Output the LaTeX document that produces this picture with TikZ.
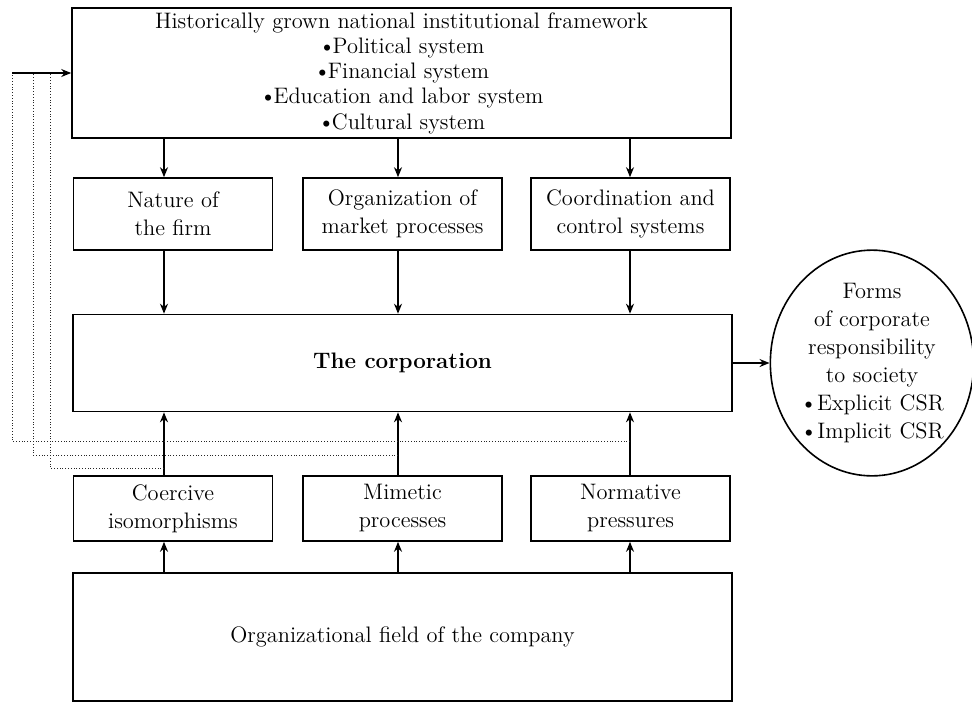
\documentclass[tikz,border=0pt]{standalone}
\usepackage{xcolor}
\usepackage{tikz}
\usetikzlibrary{shapes.geometric, arrows, arrows.meta, positioning, calc}
\tikzstyle{arrow} = [thick,->,>={Stealth[length=5pt,width=4pt]}]
\tikzstyle{feedback} = [thin, densely dotted, draw=black!85]
\tikzstyle{block} = [rectangle, draw=black, thick, text centered, align=center, inner sep=0pt]
\newcommand{\bul}{\textbullet\kern-1.5pt}

\begin{document}
\begin{tikzpicture}[x=0.5pt, y=-0.5pt,
    every node/.style={font=\fontsize{11.2}{14}\selectfont},
    wide box/.style={block, minimum width=329.5pt},
    small box/.style={block, minimum width=99.5pt}
]
\useasboundingbox (0,0) rectangle (972,702);

% framework and the three channels
\node[wide box, minimum height=65pt, font=\fontsize{11.2}{12.6}\selectfont] (framework) at (401.5,73)
    {Historically grown national institutional framework\\
     \bul Political system\\
     \bul Financial system\\
     \bul Education and labor system\\
     \bul Cultural system};
\node[small box, minimum height=36pt] (nature) at (173,214) {Nature of\\the firm};
\node[small box, minimum height=36pt] (market) at (402.5,214) {Organization of\\market processes};
\node[small box, minimum height=36pt] (control) at (630.5,214) {Coordination and\\control systems};

% the corporation and its output
\node[wide box, minimum height=48.5pt] (corp) at (402.5,363) {\textbf{The corporation}};
\node[ellipse, draw=black, thick, minimum width=98.5pt, minimum height=108pt, inner sep=0pt, align=center] (forms) at (872,363)
    {Forms\\of corporate\\responsibility\\to society\\\textbullet Explicit CSR\\\textbullet Implicit CSR};

% isomorphic pressures and the field
\node[small box, minimum height=32.5pt] (coercive) at (173,508.5) {Coercive\\isomorphisms};
\node[small box, minimum height=32.5pt] (mimetic) at (402.5,508.5) {Mimetic\\processes};
\node[small box, minimum height=32.5pt] (normative) at (630.5,508.5) {Normative\\pressures};
\node[wide box, minimum height=64pt] (field) at (402.5,637) {Organizational field of the company};

% column lines
\coordinate (c1) at (164,0);
\coordinate (c2) at (398,0);
\coordinate (c3) at (630,0);

\draw[arrow] (framework.south -| c1) -- (nature.north -| c1);
\draw[arrow] (framework.south -| c2) -- (market.north -| c2);
\draw[arrow] (framework.south -| c3) -- (control.north -| c3);
\draw[arrow] (nature.south -| c1) -- (corp.north -| c1);
\draw[arrow] (market.south -| c2) -- (corp.north -| c2);
\draw[arrow] (control.south -| c3) -- (corp.north -| c3);
\draw[arrow] (coercive.north -| c1) -- (corp.south -| c1);
\draw[arrow] (mimetic.north -| c2) -- (corp.south -| c2);
\draw[arrow] (normative.north -| c3) -- (corp.south -| c3);
\draw[arrow] (field.north -| c1) -- (coercive.south -| c1);
\draw[arrow] (field.north -| c2) -- (mimetic.south -| c2);
\draw[arrow] (field.north -| c3) -- (normative.south -| c3);
\draw[arrow] (corp.east) -- (forms.west);

% feedback to the framework
\coordinate (back) at (12,73);
\draw[feedback] (c3 |- 0,441) -| (12,73);
\draw[feedback] (c2 |- 0,455) -| (33,73);
\draw[feedback] (c1 |- 0,468) -| (50,73);
\draw[arrow, semithick] (back) -- (framework.west);

\end{tikzpicture}
\end{document}
